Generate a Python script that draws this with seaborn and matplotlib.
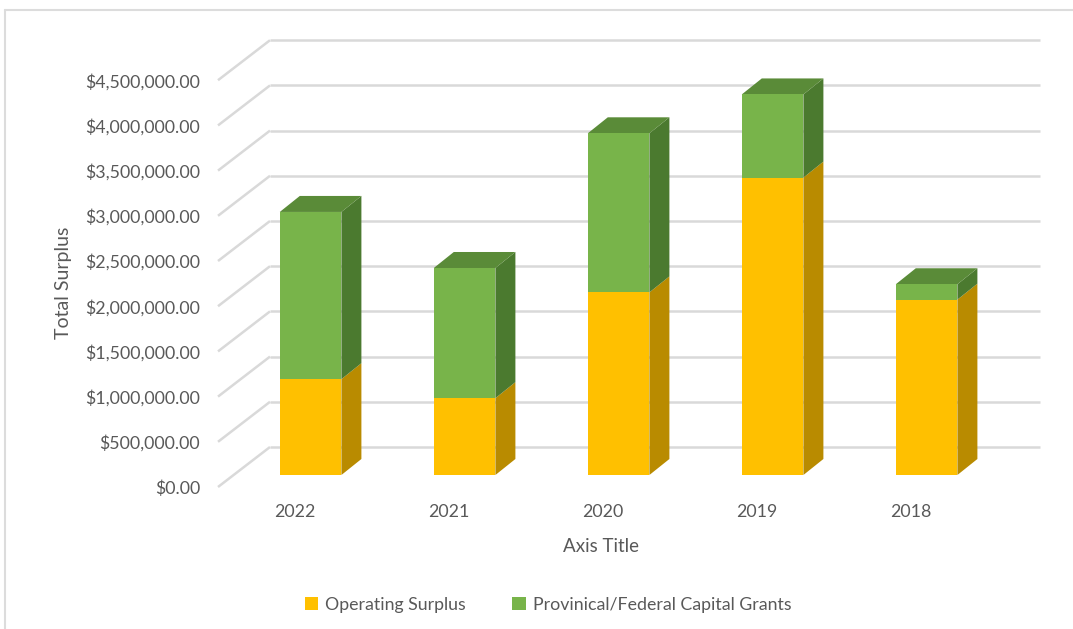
import matplotlib
matplotlib.use("Agg")
import matplotlib.pyplot as plt
from matplotlib.patches import Polygon, Patch
from matplotlib.lines import Line2D
from matplotlib.transforms import ScaledTranslation
import seaborn as sns
import pandas as pd

years = ["2022", "2021", "2020", "2019", "2018"]
operating_surplus = [1060000, 850000, 2020000, 3290000, 1940000]
capital_grants = [1850000, 1440000, 1760000, 920000, 170000]
y_ticks = [0, 500000, 1000000, 1500000, 2000000, 2500000, 3000000, 3500000, 4000000, 4500000]
series_names = ["Operating Surplus", "Provinical/Federal Capital Grants"]

YELLOW, YELLOW_SIDE = "#FFC000", "#B98B00"
GREEN, GREEN_TOP, GREEN_SIDE = "#78B44A", "#5A8B38", "#4B7A2F"
GRID = "#d9d9d9"
TEXT = "#595959"

sns.set_theme(style="white")
plt.rcParams["font.family"] = ["Lato", "DejaVu Sans"]

df = pd.DataFrame({"year": years, "op": operating_surplus, "grant": capital_grants})
df["total"] = df["op"] + df["grant"]

fig = plt.figure(figsize=(10.73, 6.29), dpi=100)
W, H = 1073, 629
# axes = plane of the bar front faces
ax = fig.add_axes([233.6 / W, 154 / H, 770 / W, 433.9 / H])
ax.set_xlim(-0.5, 4.5)
ax.set_ylim(0, 4.8e6)
ax.set_facecolor("none")
for s in ax.spines.values():
    s.set_visible(False)

px_x = 1 / 154.0          # category units per pixel
px_y = 1e6 / 90.4         # value units per pixel

# back wall and floor/wall diagonals
back_dx, back_dy = 36.4 * px_x, 28 * px_y
front_dx, front_dy = -15.6 * px_x, -12 * px_y
for v in y_ticks:
    ax.plot([-0.5 + back_dx, 4.5 + back_dx], [v + back_dy, v + back_dy],
            color=GRID, lw=1.8, zorder=0, clip_on=False, solid_capstyle="butt")
    ax.plot([-0.5 + front_dx, -0.5 + back_dx], [v + front_dy, v + back_dy],
            color=GRID, lw=1.8, zorder=0, clip_on=False, solid_capstyle="butt")

# stacked bars: totals first, operating surplus over them
sns.barplot(data=df, x="year", y="total", order=years, color=GREEN,
            width=0.4, saturation=1, ax=ax, zorder=3, linewidth=0)
sns.barplot(data=df, x="year", y="op", order=years, color=YELLOW,
            width=0.4, saturation=1, ax=ax, zorder=4, linewidth=0)

# depth faces for each bar
ddx, ddy = 20 * px_x, 16 * px_y
for i, (op, tot) in enumerate(zip(df["op"], df["total"])):
    left, right = i - 0.2, i + 0.2
    side_y = Polygon([(right, 0), (right + ddx, ddy), (right + ddx, op + ddy), (right, op)],
                     closed=True, facecolor=YELLOW_SIDE, edgecolor="none", zorder=2, clip_on=False)
    side_g = Polygon([(right, op), (right + ddx, op + ddy), (right + ddx, tot + ddy), (right, tot)],
                     closed=True, facecolor=GREEN_SIDE, edgecolor="none", zorder=2, clip_on=False)
    top_g = Polygon([(left, tot), (left + ddx, tot + ddy), (right + ddx, tot + ddy), (right, tot)],
                    closed=True, facecolor=GREEN_TOP, edgecolor="none", zorder=2, clip_on=False)
    for p in (side_y, side_g, top_g):
        ax.add_patch(p)

# value axis labels on the front wall
ax.set_yticks(y_ticks)
ax.set_yticklabels([f"${v:,.2f}" for v in y_ticks], color=TEXT, fontsize=12.8)
ax.tick_params(axis="y", length=0, pad=24)
for lab in ax.get_yticklabels():
    lab.set_transform(lab.get_transform() + ScaledTranslation(0, -0.12, fig.dpi_scale_trans))

ax.set_xticks(range(len(years)))
ax.set_xticklabels(years, color=TEXT, fontsize=12.8)
ax.tick_params(axis="x", length=0, pad=21)
for lab in ax.get_xticklabels():
    lab.set_transform(lab.get_transform() + ScaledTranslation(-0.156, 0, fig.dpi_scale_trans))

ax.set_xlabel("")
ax.set_ylabel("")
fig.text(601 / W, 1 - 546 / H, "Axis Title", ha="center", va="center", color=TEXT, fontsize=13.5)
fig.text(64 / W, 1 - 283 / H, "Total Surplus", ha="center", va="center", rotation=90,
         color=TEXT, fontsize=14)

handles = [Patch(facecolor=YELLOW, edgecolor="none"), Patch(facecolor=GREEN, edgecolor="none")]
fig.legend(handles, series_names, loc="center", bbox_to_anchor=(548 / W, 1 - 605 / H),
           ncol=2, frameon=False, fontsize=12.8, labelcolor=TEXT, handlelength=0.75,
           handleheight=0.75, handletextpad=0.4, columnspacing=2.6)

# chart area border
fig.add_artist(Line2D([5 / W, 1], [1 - 10 / H, 1 - 10 / H], color="#dcdcdc", lw=1.5,
                      transform=fig.transFigure))
fig.add_artist(Line2D([5 / W, 5 / W], [0, 1 - 10 / H], color="#dcdcdc", lw=1.5,
                      transform=fig.transFigure))

fig.savefig("out.png", dpi=100, facecolor="white")
